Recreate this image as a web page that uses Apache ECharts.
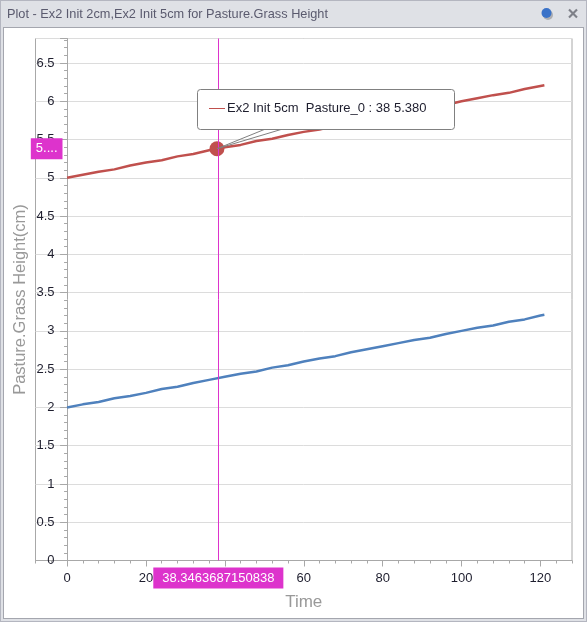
<!DOCTYPE html>
<html>
<head>
<meta charset="utf-8">
<style>html,body{margin:0;padding:0;background:#fff}#c{width:587px;height:622px}</style>
<script src="https://cdn.jsdelivr.net/npm/echarts@6/dist/echarts.min.js"></script>
</head>
<body>
<div id="c"></div>
<script>
const times = [0,4,8,12,16,20,24,28,32,36,40,44,48,52,56,60,64,68,72,76,80,84,88,92,96,100,104,108,112,116,120,121];
const init2cm = [2.00,2.04,2.07,2.12,2.15,2.19,2.24,2.27,2.32,2.36,2.40,2.44,2.47,2.52,2.55,2.60,2.64,2.67,2.72,2.76,2.80,2.84,2.88,2.91,2.96,3.00,3.04,3.07,3.12,3.15,3.20,3.21];
const init5cm = [5.00,5.04,5.08,5.11,5.16,5.20,5.23,5.28,5.31,5.36,5.40,5.43,5.48,5.51,5.56,5.60,5.63,5.68,5.72,5.75,5.80,5.84,5.87,5.92,5.95,6.00,6.04,6.08,6.11,6.16,6.20,6.21];
const picked = [38, 5.38];
const cursorX = 38.3463687150838;
const majorTimes = [0,20,40,60,80,100,120];
const titleText = 'Plot - Ex2 Init 2cm,Ex2 Init 5cm for Pasture.Grass Height';
const tipSeries = 'Ex2 Init 5cm  Pasture_0 : 38 5.380';
const font = '"Liberation Sans", Arial, sans-serif';
const magenta = '#dd33cc';

const chart = echarts.init(document.getElementById('c'), null, {renderer:'canvas'});
const pair = (ys) => times.map((t,i)=>[t,ys[i]]);
const rect = (x,y,w,h,fill,extra) => Object.assign({type:'rect',silent:true,z:-10,shape:{x,y,width:w,height:h},style:{fill}},extra||{});

chart.setOption({
  animation:false,
  backgroundColor:'#ffffff',
  textStyle:{fontFamily:font},
  grid:{left:35.5,right:15,top:38.5,bottom:61.5,show:true,borderColor:'#a8a8a8',borderWidth:1,backgroundColor:'transparent',outerBoundsMode:'none',containLabel:false},
  xAxis:[{
    type:'value',min:-8,max:128,interval:4,
    name:'Time',nameLocation:'middle',nameGap:33,
    nameTextStyle:{color:'#999999',fontSize:17,fontFamily:font},
    axisLine:{show:true,onZero:true,lineStyle:{color:'#a8a8a8'}},
    axisTick:{show:true,length:3,lineStyle:{color:'#a8a8a8'}},
    splitLine:{show:false},
    axisLabel:{color:'#1e1e2e',fontSize:13,margin:11,interval:0,hideOverlap:false,fontFamily:font,
      formatter:(v)=>majorTimes.includes(v)?String(v):''},
    axisPointer:{show:true,type:'line',value:cursorX,status:'show',triggerTooltip:false,snap:false,z:5,
      lineStyle:{color:magenta,width:1,type:'solid'},
      label:{show:true,formatter:()=>String(cursorX),backgroundColor:magenta,color:'#ffffff',fontSize:13,padding:[4,9,4,9],margin:7,borderRadius:0,borderWidth:0,shadowBlur:0,fontFamily:font}}
  },{
    type:'value',min:-8,max:128,position:'bottom',
    axisLine:{show:false},
    axisTick:{show:true,length:6,customValues:majorTimes,lineStyle:{color:'#a8a8a8'}},
    axisLabel:{show:false},splitLine:{show:false}
  }],
  yAxis:{
    type:'value',min:0,max:6.82,interval:0.5,
    name:'Pasture.Grass Height(cm)',nameLocation:'middle',nameGap:7,nameMoveOverlap:false,
    nameTextStyle:{color:'#999999',fontSize:16.5,fontFamily:font},
    axisLine:{show:true,onZero:true,lineStyle:{color:'#a8a8a8'}},
    axisTick:{show:true,length:7,lineStyle:{color:'#a8a8a8'}},
    minorTick:{show:true,splitNumber:5,length:3,lineStyle:{color:'#a8a8a8'}},
    splitLine:{show:true,lineStyle:{color:'#dcdcdc',width:1}},
    axisLabel:{color:'#1e1e2e',fontSize:13,margin:-19,showMaxLabel:false,fontFamily:font,
      formatter:(v)=>String(v)},
    axisPointer:{show:true,type:'line',value:picked[1],status:'show',triggerTooltip:false,snap:false,z:5,
      lineStyle:{color:magenta,opacity:0,width:1},
      label:{show:true,formatter:()=>'5....',backgroundColor:magenta,color:'#ffffff',fontSize:13,padding:[4,5,4,5],margin:-27,borderRadius:0,borderWidth:0,shadowBlur:0,fontFamily:font}}
  },
  series:[
    {name:'Ex2 Init 2cm',type:'line',data:pair(init2cm),showSymbol:false,smooth:false,z:3,
      lineStyle:{color:'#4f81bd',width:2.5},itemStyle:{color:'#4f81bd'}},
    {name:'Ex2 Init 5cm',type:'line',data:pair(init5cm),showSymbol:false,smooth:false,z:3,
      lineStyle:{color:'#c0504d',width:2.5},itemStyle:{color:'#c0504d'}},
    {type:'scatter',data:[picked],symbolSize:15,z:4,itemStyle:{color:'#c0504d',opacity:1}},
    {type:'custom',z:60,clip:false,data:[picked],
      renderItem:(params,api)=>{
        const p = api.coord([api.value(0),api.value(1)]);
        const bx = Math.round(p[0]-20), by = Math.round(p[1]-60), bw = 257, bh = 40;
        return {type:'group',children:[
          {type:'polyline',shape:{points:[[p[0],p[1]],[p[0]+48,p[1]-19.5]]},style:{stroke:'#808080',lineWidth:1,fill:null}},
          {type:'polyline',shape:{points:[[p[0],p[1]],[p[0]+65,p[1]-19.5]]},style:{stroke:'#808080',lineWidth:1,fill:null}},
          {type:'rect',shape:{x:bx+.5,y:by+.5,width:bw,height:bh,r:3},style:{fill:'#ffffff',stroke:'#808080',lineWidth:1}},
          {type:'line',shape:{x1:bx+12,y1:by+19.5,x2:bx+28,y2:by+19.5},style:{stroke:'#c0504d',lineWidth:1}},
          {type:'text',x:bx+30,y:by+19.5,style:{text:tipSeries,fill:'#1e1e2e',font:'13px '+font,textVerticalAlign:'middle',textAlign:'left'}}
        ]};
      }}
  ],
  graphic:[
    rect(0,0,587,622,'#b4b6c0'),
    rect(1,1,585,620,'#dfe1e6'),
    rect(3,27,581,592,'#a4a6ae'),
    rect(4,28,579,590,'#ffffff'),
    {type:'text',silent:true,z:-5,x:7,y:14,style:{text:titleText,fill:'#5a5a6e',font:'12.75px '+font,textVerticalAlign:'middle'}},
    {type:'circle',silent:true,z:-5,shape:{cx:548,cy:15,r:5},style:{fill:'rgba(80,80,80,0.35)'}},
    {type:'circle',silent:true,z:-5,shape:{cx:546.5,cy:13,r:5},style:{fill:'#3a72c8'}},
    {type:'line',silent:true,z:-5,shape:{x1:569,y1:9.5,x2:577,y2:17.5},style:{stroke:'#7e8088',lineWidth:2.2}},
    {type:'line',silent:true,z:-5,shape:{x1:577,y1:9.5,x2:569,y2:17.5},style:{stroke:'#7e8088',lineWidth:2.2}}
  ]
});
</script>
</body>
</html>
